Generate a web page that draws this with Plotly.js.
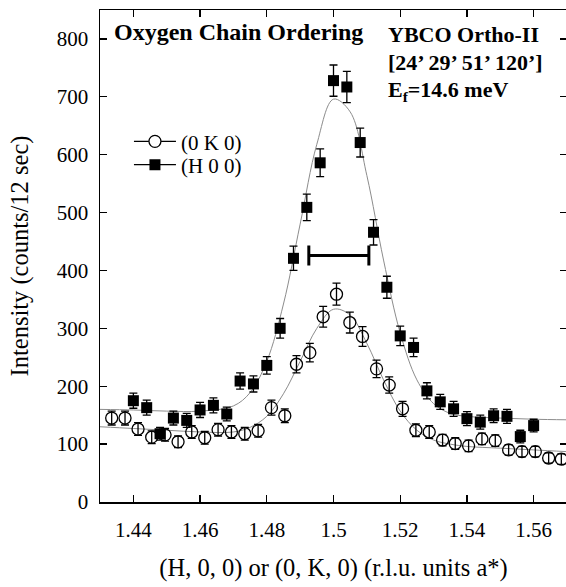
<!DOCTYPE html>
<html>
<head>
<meta charset="utf-8">
<script src="https://cdn.plot.ly/plotly-3.0.1.min.js"></script>
<style>html,body{margin:0;padding:0;overflow:hidden;background:#fff;}#chart{width:570px;height:587px;}</style>
</head>
<body>
<div id="chart"></div>
<script>
// (H 0 0) scan - filled squares
const hX = [1.440,1.444,1.448,1.452,1.456,1.460,1.464,1.468,1.472,1.476,1.480,1.484,1.488,1.492,1.496,1.500,1.504,1.508,1.512,1.516,1.520,1.524,1.528,1.532,1.536,1.540,1.544,1.548,1.552,1.556,1.560];
const hY = [175,163,118,145,141,159,167,152,209,204,236,300,421,509,586,728,717,621,466,371,287,267,192,173,161,144,138,149,148,113,132];
const hErr = [13,13,11,12,12,13,13,12,14,14,15,17,21,23,24,27,27,25,22,19,17,16,14,13,13,12,12,12,12,11,11];

// (0 K 0) scan - open circles
const kX = [1.4335,1.4375,1.4414,1.4455,1.4495,1.4534,1.4575,1.4614,1.4654,1.4694,1.4734,1.4774,1.4814,1.4854,1.4889,1.4929,1.4969,1.5009,1.5049,1.5087,1.5129,1.5167,1.5207,1.5247,1.5287,1.5327,1.5365,1.5405,1.5445,1.5485,1.5525,1.5565,1.5605,1.5645,1.5683];
const kY = [145,145,126,112,116,104,121,111,125,121,118,123,163,149,238,258,320,359,310,286,230,202,161,124,121,107,101,97,109,106,90,87,87,76,74];
const kErr = [12,12,11,11,11,10,11,11,11,11,11,11,13,12,15,16,18,19,18,17,15,14,13,11,11,10,10,10,10,10,9,9,9,9,9];

// fitted curves
const fitX = [1.43,1.44,1.45,1.46,1.47,1.475,1.48,1.485,1.49,1.495,1.5,1.505,1.51,1.515,1.52,1.525,1.53,1.535,1.54,1.55,1.56,1.57];
const fitH = [160,159,157,157,166,189,243,342,480,618,696,674,564,418,292,211,170,153,148,145,143,142];
const fitK = [130,127,124,121,121,129,148,187,243,300,333,323,274,211,157,124,107,100,96,93,90,87];

// resolution bar
const resX = [1.5016];
const resY = [426];
const resHalfWidth = [0.009];

const legendNames = ["(0 K 0)", "(H 0 0)"];
const xTicks = [1.44,1.46,1.48,1.5,1.52,1.54,1.56];
const xTickText = ["1.44","1.46","1.48","1.5","1.52","1.54","1.56"];
const yTicks = [0,100,200,300,400,500,600,700,800];

const FONT = "Liberation Serif, Times New Roman, serif";

const traces = [
  {x: fitX, y: fitH, mode: "lines", line: {color: "#8c8c8c", width: 1, shape: "spline"}, showlegend: false, hoverinfo: "skip"},
  {x: fitX, y: fitK, mode: "lines", line: {color: "#8c8c8c", width: 1, shape: "spline"}, showlegend: false, hoverinfo: "skip"},
  {x: kX, y: kY, mode: "markers", showlegend: false,
   marker: {symbol: "circle-open", size: 12, color: "#000", line: {width: 1.3, color: "#000"}},
   error_y: {type: "data", array: kErr, color: "#000", thickness: 1.3, width: 4}},
  {x: hX, y: hY, mode: "markers", showlegend: false,
   marker: {symbol: "square", size: 11, color: "#000"},
   error_y: {type: "data", array: hErr, color: "#000", thickness: 1.3, width: 4}},
  {x: resX, y: resY, mode: "markers", showlegend: false,
   marker: {size: 1, color: "rgba(0,0,0,0)"},
   error_x: {type: "data", array: resHalfWidth, color: "#000", thickness: 3, width: 10}},
  {x: [null], y: [null], mode: "lines+markers", name: legendNames[0], legend: "legend",
   line: {color: "#000", width: 1.3},
   marker: {symbol: "circle", size: 12, color: "#fff", line: {width: 1.3, color: "#000"}}},
  {x: [null], y: [null], mode: "lines+markers", name: legendNames[1], legend: "legend2",
   line: {color: "#000", width: 1.3},
   marker: {symbol: "square", size: 11, color: "#000"}}
];

const axisCommon = {
  showline: true, linecolor: "#000", linewidth: 1.5,
  ticks: "inside", ticklen: 7, tickwidth: 1.3, tickcolor: "#000",
  mirror: "ticks", showgrid: false, zeroline: false,
  tickfont: {family: FONT, size: 21, color: "#000"}
};

const legendCommon = {
  x: 0.062, xanchor: "left", yanchor: "middle", bgcolor: "rgba(0,0,0,0)",
  font: {family: FONT, size: 21, color: "#000"}, itemwidth: 42, borderwidth: 0
};

const layout = {
  width: 570, height: 587,
  margin: {l: 100, r: 3, t: 10, b: 85},
  paper_bgcolor: "#fff", plot_bgcolor: "#fff",
  font: {family: FONT, color: "#000"},
  xaxis: Object.assign({}, axisCommon, {
    range: [1.43, 1.57], tickmode: "array", tickvals: xTicks, ticktext: xTickText,
    ticklabelstandoff: 8,
    title: {text: "(H, 0, 0) or (0, K, 0) (r.l.u. units a*)", font: {family: FONT, size: 24.5, color: "#000"}, standoff: 18}
  }),
  yaxis: Object.assign({}, axisCommon, {
    range: [0, 850], tickmode: "array", tickvals: yTicks,
    ticklabelstandoff: 6,
    title: {text: "Intensity (counts/12 sec)", font: {family: FONT, size: 24.5, color: "#000"}, standoff: 21}
  }),
  showlegend: true,
  legend: Object.assign({}, legendCommon, {y: 0.7323}),
  legend2: Object.assign({}, legendCommon, {y: 0.685}),
  annotations: [
    {xref: "paper", yref: "paper", x: 0.025, y: 0.955, xanchor: "left", yanchor: "middle", showarrow: false,
     text: "<b>Oxygen Chain Ordering</b>", font: {family: FONT, size: 24, color: "#000"}},
    {xref: "paper", yref: "paper", x: 0.612, y: 0.951, xanchor: "left", yanchor: "middle", showarrow: false,
     text: "<b>YBCO Ortho-II</b>", font: {family: FONT, size: 22, color: "#000"}},
    {xref: "paper", yref: "paper", x: 0.612, y: 0.894, xanchor: "left", yanchor: "middle", showarrow: false,
     text: "<b>[24’ 29’ 51’ 120’]</b>", font: {family: FONT, size: 22, color: "#000"}},
    {xref: "paper", yref: "paper", x: 0.612, y: 0.835, xanchor: "left", yanchor: "middle", showarrow: false,
     text: "<b>E<sub>f</sub>=14.6 meV</b>", font: {family: FONT, size: 22, color: "#000"}}
  ]
};

Plotly.newPlot("chart", traces, layout, {staticPlot: true, displayModeBar: false});
</script>
</body>
</html>
